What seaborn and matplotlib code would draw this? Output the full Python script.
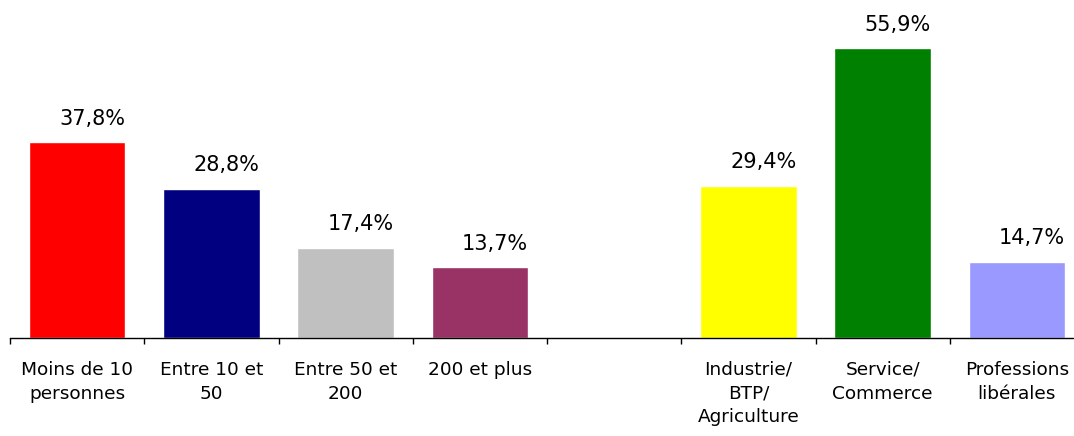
import numpy as np
import pandas as pd
import matplotlib
matplotlib.use("Agg")
import matplotlib.pyplot as plt
import seaborn as sns

# data
categories = ["Moins de 10\npersonnes", "Entre 10 et\n50", "Entre 50 et\n200", "200 et plus",
              " ", "Industrie/\nBTP/\nAgriculture", "Service/\nCommerce", "Professions\nlibérales"]
values = [37.8, 28.8, 17.4, 13.7, np.nan, 29.4, 55.9, 14.7]
labels = ["37,8%", "28,8%", "17,4%", "13,7%", "", "29,4%", "55,9%", "14,7%"]
colors = ["#FF0000", "#000080", "#C0C0C0", "#993366", "#FFFFFF", "#FFFF00", "#008000", "#9999FF"]

sns.set_style("white")
plt.rcParams["font.family"] = ["DejaVu Sans"]

df = pd.DataFrame({"cat": categories, "val": values})

fig = plt.figure(figsize=(10.74, 4.36), dpi=100)
ax = fig.add_axes([10 / 1074, 1 - 338 / 436, 1074 / 1074, 338 / 436])

sns.barplot(data=df, x="cat", y="val", hue="cat", order=categories,
            palette=dict(zip(categories, colors)), width=0.72,
            legend=False, saturation=1, ax=ax)

for i, (v, lab) in enumerate(zip(values, labels)):
    if lab:
        ax.text(i + 0.11, v + 2.6, lab, ha="center", va="bottom", fontsize=15, color="black")

ax.set_xlim(-0.5, len(categories) - 0.5)
ax.set_ylim(0, 65.2)
ax.set_xlabel("")
ax.set_ylabel("")
ax.set_yticks([])

ax.set_xticks(range(len(categories)))
ax.set_xticklabels(categories, fontsize=13.3, linespacing=1.4, color="black")
ax.set_xticks(np.arange(-0.5, len(categories), 1), minor=True)
ax.tick_params(axis="x", which="major", length=0, pad=16.5)
ax.tick_params(axis="x", which="minor", length=4.5, width=1, color="black", direction="out", bottom=True)

for s in ["top", "right", "left"]:
    ax.spines[s].set_visible(False)
ax.spines["bottom"].set_color("black")
ax.spines["bottom"].set_linewidth(1)

fig.savefig("out.png", dpi=100)
